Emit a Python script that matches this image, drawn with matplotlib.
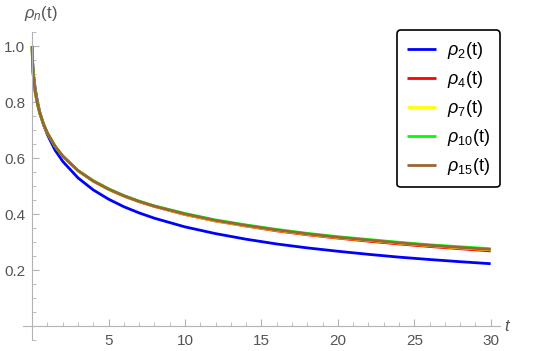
import numpy as np
import matplotlib.pyplot as plt
from matplotlib.ticker import MultipleLocator

plt.rcParams["font.family"] = ["Liberation Sans", "DejaVu Sans"]
plt.rcParams["mathtext.fontset"] = "custom"
plt.rcParams["mathtext.rm"] = "Liberation Sans"
plt.rcParams["mathtext.it"] = "Liberation Sans:italic"

# ==== Données ====
t = [0, 0.02, 0.05, 0.1, 0.2, 0.35, 0.5, 0.75, 1, 1.5, 2, 3, 4, 5, 6, 7, 8,
     10, 12, 14, 16, 18, 20, 22, 24, 26, 28, 30]

rho2 = [1.0, 0.956, 0.927, 0.894, 0.848, 0.800, 0.764, 0.718, 0.683, 0.628,
        0.588, 0.529, 0.486, 0.453, 0.426, 0.404, 0.385, 0.354, 0.330, 0.310,
        0.293, 0.279, 0.267, 0.256, 0.246, 0.2375, 0.2297, 0.2225]
rho4 = [1.0, 0.944, 0.913, 0.880, 0.836, 0.793, 0.760, 0.720, 0.689, 0.642,
        0.607, 0.555, 0.517, 0.488, 0.464, 0.444, 0.427, 0.398, 0.375, 0.357,
        0.340, 0.326, 0.314, 0.303, 0.293, 0.284, 0.276, 0.268]
rho7 = [1.0, 0.944, 0.913, 0.880, 0.836, 0.793, 0.760, 0.720, 0.689, 0.642,
        0.607, 0.555, 0.518, 0.489, 0.465, 0.445, 0.428, 0.399, 0.376, 0.358,
        0.342, 0.328, 0.316, 0.306, 0.296, 0.287, 0.279, 0.272]
rho10 = [1.0, 0.944, 0.913, 0.880, 0.836, 0.793, 0.760, 0.720, 0.689, 0.642,
         0.607, 0.555, 0.519, 0.490, 0.466, 0.446, 0.429, 0.402, 0.379, 0.361,
         0.345, 0.331, 0.319, 0.309, 0.299, 0.290, 0.283, 0.276]
rho15 = [1.0, 0.944, 0.913, 0.880, 0.836, 0.793, 0.760, 0.720, 0.689, 0.642,
         0.607, 0.555, 0.518, 0.489, 0.465, 0.445, 0.428, 0.400, 0.377, 0.359,
         0.343, 0.329, 0.317, 0.307, 0.297, 0.288, 0.2805, 0.2733]

series = [
    (rho2, (0, 0, 1), r"$\rho_{2}$(t)"),
    (rho4, (1, 0, 0), r"$\rho_{4}$(t)"),
    (rho7, (1, 1, 0), r"$\rho_{7}$(t)"),
    (rho10, (0, 1, 0), r"$\rho_{10}$(t)"),
    (rho15, (0.6, 0.4, 0.2), r"$\rho_{15}$(t)"),
]

# ==== Figure ====
fig = plt.figure(figsize=(5.5, 3.51), dpi=100)
ax = fig.add_axes([0.0418, 0.0313, 0.867, 0.8775])

for vals, col, lab in series:
    ax.plot(t, vals, color=col, lw=2.0, label=lab, solid_capstyle="butt")

ax.set_xlim(-0.6, 30.6)
ax.set_ylim(-0.05, 1.05)

gris = "#b3b3b3"
for s in ["top", "right"]:
    ax.spines[s].set_visible(False)
ax.spines["left"].set_position(("data", 0))
ax.spines["bottom"].set_position(("data", 0))
ax.spines["left"].set_color(gris)
ax.spines["bottom"].set_color(gris)

ax.set_xticks([5, 10, 15, 20, 25, 30])
ax.set_yticks([0.2, 0.4, 0.6, 0.8, 1.0])
ax.set_yticklabels(["0.2", "0.4", "0.6", "0.8", "1.0"])
ax.xaxis.set_minor_locator(MultipleLocator(1))
ax.yaxis.set_minor_locator(MultipleLocator(0.05))
ax.tick_params(which="both", direction="in", color=gris, labelcolor="#555555",
               labelsize=11)
ax.tick_params(which="major", length=5)
ax.tick_params(which="minor", length=3)
ax.tick_params(axis="x", pad=6)
ax.tick_params(axis="y", pad=5)

ax.text(30.9, 0.0, "t", fontsize=12, style="italic", color="#555555",
        ha="left", va="center")
fig.text(0.075, 0.962, r"$\rho_n$(t)", fontsize=12, color="#555555",
         ha="center", va="center")

leg = ax.legend(loc="upper right", bbox_to_anchor=(500 / 550, 1 - 30 / 351),
                bbox_transform=fig.transFigure, borderaxespad=0,
                fontsize=13, handlelength=1.6, labelspacing=0.45,
                handletextpad=0.6, borderpad=0.55, fancybox=True,
                framealpha=1, edgecolor="black")
leg.get_frame().set_linewidth(1.2)

fig.savefig("out.png", dpi=100)
